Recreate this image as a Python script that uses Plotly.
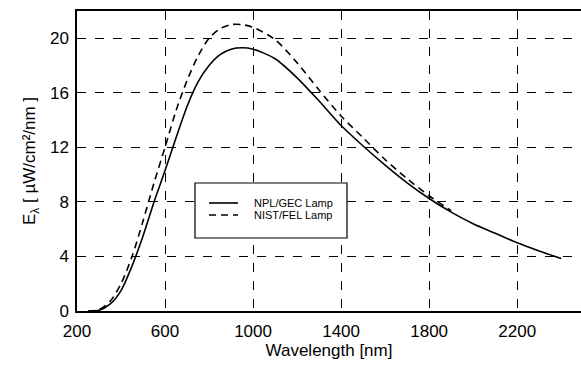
import plotly.graph_objects as go

wl_npl = [250, 300, 350, 400, 450, 500, 550, 600, 650, 700, 750, 800, 850, 900, 950,
          1000, 1100, 1200, 1300, 1400, 1500, 1600, 1700, 1800, 1900, 2000, 2100,
          2200, 2300, 2400]
e_npl = [0.0, 0.05, 0.5, 1.5, 3.3, 5.5, 8.0, 10.3, 12.7, 15.0, 16.8, 18.0, 18.8, 19.2, 19.3,
         19.2, 18.5, 17.1, 15.4, 13.6, 12.1, 10.7, 9.4, 8.25, 7.25, 6.4, 5.7,
         5.0, 4.4, 3.85]

wl_nist = [250, 300, 350, 400, 450, 500, 550, 600, 650, 700, 750, 800, 850, 900, 950,
           1000, 1100, 1200, 1300, 1400, 1500, 1600, 1700, 1800, 1900]
e_nist = [0.0, 0.1, 0.7, 2.0, 4.0, 6.6, 9.4, 12.0, 14.7, 16.9, 18.7, 20.0, 20.7, 21.0, 21.0,
          20.8, 19.9, 18.2, 16.2, 14.3, 12.7, 11.1, 9.7, 8.45, 7.35]

names = ["NPL/GEC Lamp", "NIST/FEL Lamp"]
x_ticks = [200, 600, 1000, 1400, 1800, 2200]
y_ticks = [0, 4, 8, 12, 16, 20]

FONT = "Liberation Sans Narrow, Liberation Sans, Arial, sans-serif"

fig = go.Figure()
fig.add_trace(go.Scatter(x=wl_npl, y=e_npl, mode="lines", name=names[0],
                         line=dict(color="black", width=1.6, shape="spline", smoothing=0.8),
                         showlegend=False))
fig.add_trace(go.Scatter(x=wl_nist, y=e_nist, mode="lines", name=names[1],
                         line=dict(color="black", width=1.6, dash="7px,5px", shape="spline",
                                   smoothing=0.8),
                         showlegend=False))

# manual legend box
def px(x):
    return (x - 77) / 504
def py(y):
    return (311 - y) / 300

fig.add_shape(type="rect", xref="paper", yref="paper", x0=px(195), x1=px(347), y0=py(238), y1=py(183),
              line=dict(color="black", width=1.2), fillcolor="white", layer="above")
fig.add_shape(type="line", xref="paper", yref="paper", x0=px(209), x1=px(238), y0=py(203), y1=py(203),
              line=dict(color="black", width=1.6), layer="above")
fig.add_shape(type="line", xref="paper", yref="paper", x0=px(209), x1=px(238), y0=py(215), y1=py(215),
              line=dict(color="black", width=1.6, dash="7px,5px"), layer="above")
for i, nm in enumerate(names):
    fig.add_annotation(xref="paper", yref="paper", x=px(252), y=py(203 + 12 * i), text=nm,
                       showarrow=False, xanchor="left", yanchor="middle",
                       font=dict(family=FONT, size=11, color="black"))

fig.update_layout(
    width=581, height=372,
    margin=dict(l=77, r=0, t=11, b=61),
    paper_bgcolor="white", plot_bgcolor="white",
    font=dict(family=FONT, color="black", size=18),
    showlegend=False,
)
fig.update_xaxes(range=[200, 2490], tickvals=x_ticks, showgrid=True, gridcolor="black",
                 griddash="dash", gridwidth=0.8, showline=True, linecolor="black", linewidth=1.5,
                 mirror=True, ticks="", zeroline=False, ticklabelstandoff=4,
                 title=dict(text="Wavelength [nm]", font=dict(size=17), standoff=4),
                 tickfont=dict(size=17))
fig.update_yaxes(range=[0, 22], tickvals=y_ticks, showgrid=True, gridcolor="black",
                 griddash="dash", gridwidth=0.8, showline=True, linecolor="black", linewidth=1.5,
                 mirror=False, ticks="", zeroline=False, ticklabelstandoff=3,
                 title=dict(text="E<sub>λ</sub> [ µW/cm²/nm ]", font=dict(size=17), standoff=10),
                 tickfont=dict(size=17))

fig.write_html("out.html")
